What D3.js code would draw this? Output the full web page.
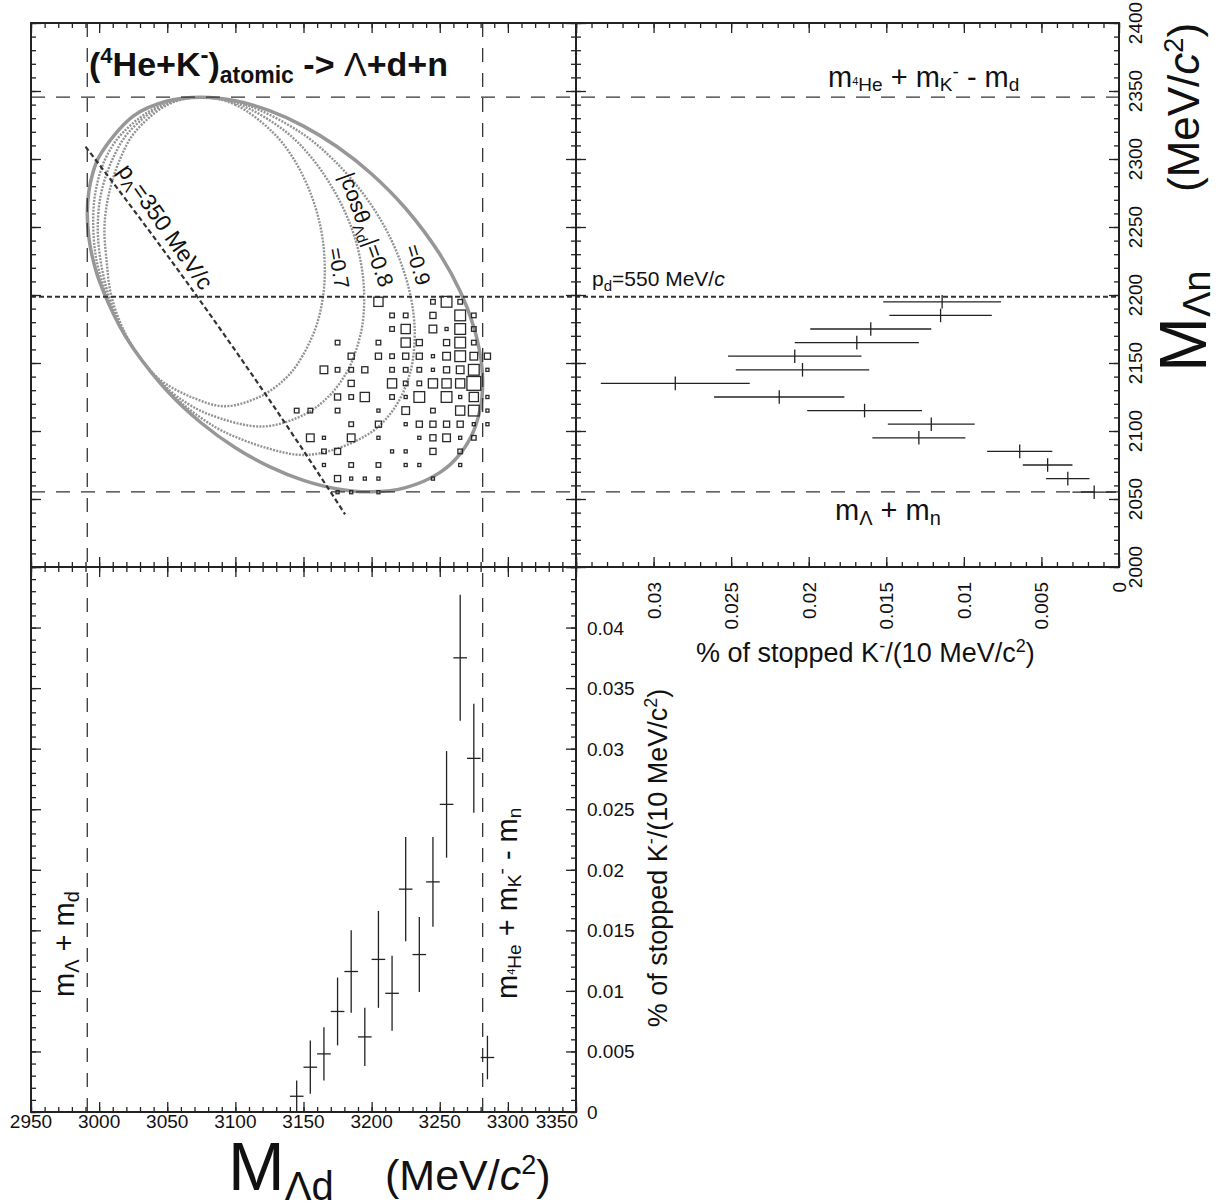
<!DOCTYPE html>
<html><head><meta charset="utf-8">
<script src="https://cdn.jsdelivr.net/npm/d3@7"></script>
<style>
body{margin:0;background:#fff;}
svg{display:block;font-family:"Liberation Sans",Arial,Helvetica,sans-serif;}
text{white-space:pre;}
</style></head><body>
<svg id="c" width="1218" height="1204"></svg>
<script>
// ---------------- data ----------------
// tick values / labels
const ldTicks = [2950,3000,3050,3100,3150,3200,3250,3300,3350];
const ldTickLabels = ["2950","3000","3050","3100","3150","3200","3250","3300","3350"];
const lnTicks = [2000,2050,2100,2150,2200,2250,2300,2350,2400];
const lnTickLabels = ["2000","2050","2100","2150","2200","2250","2300","2350","2400"];
const pctRightTicks = [0.03,0.025,0.02,0.015,0.01,0.005,0];
const pctRightLabels = ["0.03","0.025","0.02","0.015","0.01","0.005","0"];
const pctBottomTicks = [0,0.005,0.01,0.015,0.02,0.025,0.03,0.035,0.04];
const pctBottomLabels = ["0","0.005","0.01","0.015","0.02","0.025","0.03","0.035","0.04"];

// kinematic limits (MeV/c^2)
const limLd = [2991.3, 3281.5];      // m_L+m_d , m4He+mK-mn
const limLn = [2055.3, 2345.5];      // m_L+m_n , m4He+mK-md
const pdLine = 2198.7;               // p_d = 550 MeV/c

// projection on M_Ln (right panel)
const projLnBins = [2195,2185,2175,2165,2155,2145,2135,2125,2115,2105,2095,2085,2075,2065,2055];
const projLnVal  = [0.0114,0.0115,0.0160,0.0169,0.0209,0.0204,0.0286,0.0219,0.0164,0.0121,0.0129,0.0064,0.0046,0.0033,0.0016];
const projLnErr  = [0.0038,0.0033,0.0039,0.0040,0.0043,0.0043,0.0048,0.0042,0.0037,0.0028,0.0030,0.0021,0.0016,0.0014,0.0014];

// projection on M_Ld (bottom panel)
const projLdBins = [3145,3155,3165,3175,3185,3195,3205,3215,3225,3235,3245,3255,3265,3275,3285];
const projLdVal  = [0.0013,0.0037,0.0048,0.0083,0.0116,0.0062,0.0126,0.0098,0.0184,0.0130,0.0190,0.0254,0.0375,0.0292,0.0045];
const projLdErr  = [0.0013,0.0022,0.0022,0.0028,0.0034,0.0024,0.0040,0.0031,0.0043,0.0031,0.0037,0.0044,0.0052,0.0045,0.0018];

// 2D box histogram (rows of M_Ln, columns of M_Ld, box weight)
const boxRowLn = [2195,2185,2175,2165,2155,2145,2135,2125,2115,2105,2095,2085,2075,2065,2055];
const boxRowLd = [
 [3205,3245,3255,3265],
 [3215,3225,3245,3265,3275],
 [3215,3225,3245,3255,3265,3275],
 [3175,3205,3225,3235,3255,3265,3275],
 [3185,3205,3215,3225,3235,3245,3255,3265,3275,3285],
 [3165,3175,3185,3195,3215,3225,3235,3245,3255,3265,3275,3285],
 [3185,3215,3225,3235,3245,3255,3265,3275],
 [3175,3185,3195,3215,3225,3235,3255,3265,3275,3285],
 [3145,3155,3175,3205,3225,3245,3265,3275,3285],
 [3185,3205,3225,3235,3245,3255,3265,3275,3285],
 [3155,3165,3185,3205,3235,3245,3255,3265,3275],
 [3165,3175,3215,3225,3245,3265],
 [3165,3185,3205,3225,3235,3265],
 [3175,3185,3195,3205,3245],
 [3175,3185,3205]];
const boxRowN = [
 [6,3,7,3],
 [3,3,4,7,3],
 [3,6,5,2,7,3],
 [3,3,6,4,4,7,3],
 [4,4,3,4,4,2,5,7,5,4],
 [5,3,3,4,3,3,3,2,4,5,7,2],
 [4,6,3,3,6,6,6,9],
 [4,3,6,3,2,7,7,2,6,2],
 [3,3,3,2,5,3,6,7,2],
 [3,4,2,4,4,4,4,2,2],
 [5,2,5,2,2,4,5,2,3],
 [3,4,2,2,4,3],
 [2,3,3,2,2,2],
 [4,2,2,2,2],
 [2,2,2]];

// Dalitz boundary [M_Ld, M_Ln]
const boundaryPts = [[2991.3,2259.7],[2992.5,2276.5],[2995,2288.3],[3000,2301.8],[3025,2331.5],[3050,2342.6],[3075,2345.4],[3100,2342.8],[3125,2335.5],[3150,2324.2],[3175,2308.8],[3200,2289.0],[3225,2263.6],[3250,2230.1],[3265,2202.7],[3275,2176.5],[3280,2154.5],[3281,2146.2],[3281.5,2135.3],[3281,2125.0],[3280,2117.7],[3275,2100.3],[3265,2083.2],[3250,2069.4],[3225,2058.4],[3200,2055.3],[3175,2057.4],[3150,2063.7],[3125,2073.8],[3100,2087.7],[3075,2105.9],[3050,2129.4],[3025,2160.9],[3015,2177.2],[3000,2210.7],[2995,2228.2],[2992.5,2242.0]];
// |cos theta_Ld| contours
const cos07Pts = [[3075,2345.4],[3099.7,2340],[3127.1,2320],[3142.8,2300],[3155.1,2275],[3162.5,2250],[3165.5,2225],[3164.5,2200],[3158.6,2175],[3146.1,2150],[3135.6,2137.5],[3117.5,2125],[3092,2118.2],[3067.6,2125],[3044.9,2137.5],[3033,2150],[3028.9,2155.3],[3017.6,2175],[3008.8,2200],[3005.5,2225],[3003.9,2250],[3007.3,2275],[3015.4,2300],[3026.5,2320],[3050.5,2340]];
const cos08Pts = [[3075,2345.4],[3103.2,2340],[3137.1,2320],[3156.7,2300],[3173.4,2275],[3185,2250],[3191.9,2225],[3194.5,2200],[3192.7,2175],[3185.1,2150],[3178.2,2137.5],[3168,2125],[3151.4,2112.5],[3120,2103.3],[3080,2112.5],[3057.7,2125],[3043.9,2137.5],[3033,2150],[3028.9,2155.3],[3016.9,2175],[3006.9,2200],[3001.1,2225],[2999,2250],[3001.5,2275],[3009.9,2300],[3022,2320],[3048,2340]];
const cos09Pts = [[3075,2345.4],[3107.3,2340],[3147.1,2320],[3171.4,2300],[3193.4,2275],[3209.6,2250],[3221,2225],[3228.4,2200],[3231.6,2175],[3229.9,2150],[3226.6,2137.5],[3221.5,2125],[3213.6,2112.5],[3201,2100],[3176,2087.5],[3150,2082.4],[3123,2087.5],[3090.5,2100],[3070.8,2112.5],[3055.4,2125],[3043.2,2137.5],[3033,2150],[3028.9,2155.3],[3016.2,2175],[3005.6,2200],[2998.2,2225],[2995.7,2250],[2997.2,2275],[3004.5,2300],[3018,2320],[3046,2340]];
// p_Lambda = 350 MeV/c line
const pLamPts = [[2990,2309.1],[3025,2263.0],[3050,2229.2],[3075,2194.6],[3100,2159.1],[3125,2122.8],[3150,2085.5],[3180.5,2038.7]];

// ---------------- layout ----------------
const W=1218,H=1204;
const L=31, MX=576, R=1119, T=23, MY=567, B=1112;
const svg = d3.select("#c");
svg.append("rect").attr("width",W).attr("height",H).attr("fill","#fff");

const xLd = d3.scaleLinear().domain([2950,3350]).range([L,MX]);
const yLn = d3.scaleLinear().domain([2000,2400]).range([MY,T]);
const xPct = d3.scaleLinear().domain([0,0.035]).range([R,MX]);
const yPct = d3.scaleLinear().domain([0,0.045]).range([B,MY]);
const boxSize = d3.scaleLinear().domain([0,9]).range([0,13.8]);

const ink="#222";

// ---------------- curves ----------------
const lineLL = d3.line().x(d=>xLd(d[0])).y(d=>yLn(d[1]));
const closed = d3.line().x(d=>xLd(d[0])).y(d=>yLn(d[1])).curve(d3.curveCatmullRomClosed.alpha(0.5));
[cos07Pts,cos08Pts,cos09Pts].forEach(p=>{
  svg.append("path").attr("d",closed(p)).attr("fill","none").attr("stroke","#939393")
    .attr("stroke-width",2.4).attr("stroke-dasharray","2,1.3");
});
svg.append("path").attr("d",closed(boundaryPts)).attr("fill","none").attr("stroke","#979797").attr("stroke-width",3.5);

// kinematic limit lines (long dash)
function dline(x1,y1,x2,y2,dash,w){
  svg.append("line").attr("x1",x1).attr("y1",y1).attr("x2",x2).attr("y2",y2)
    .attr("stroke","#333").attr("stroke-width",w).attr("stroke-dasharray",dash);
}
limLn.forEach(v=>dline(L,yLn(v),R,yLn(v),"14,11",1.3));
limLd.forEach(v=>dline(xLd(v),T,xLd(v),B,"14,11",1.3));
dline(L,yLn(pdLine),R,yLn(pdLine),"5,3",2.2);
svg.append("path").attr("d",lineLL.curve(d3.curveMonotoneX)(pLamPts)).attr("fill","none")
  .attr("stroke","#333").attr("stroke-width",2.2).attr("stroke-dasharray","5,3");

// boxes
const boxes=[];
boxRowLn.forEach((ln,i)=>boxRowLd[i].forEach((ld,j)=>boxes.push({ld,ln,n:boxRowN[i][j]})));
svg.append("g").selectAll("rect").data(boxes).join("rect")
  .attr("x",d=>xLd(d.ld)-boxSize(d.n)/2).attr("y",d=>yLn(d.ln)-boxSize(d.n)/2)
  .attr("width",d=>boxSize(d.n)).attr("height",d=>boxSize(d.n))
  .attr("fill","none").attr("stroke","#2a2a2a").attr("stroke-width",1.3);

// right panel error bars
const gR = svg.append("g").attr("stroke",ink).attr("stroke-width",1.3);
projLnBins.forEach((b,i)=>{
  const y=yLn(b), v=projLnVal[i], e=projLnErr[i];
  gR.append("line").attr("x1",Math.max(MX,xPct(v+e))).attr("x2",Math.min(R,xPct(v-e))).attr("y1",y).attr("y2",y);
  gR.append("line").attr("x1",xPct(v)).attr("x2",xPct(v)).attr("y1",yLn(b+5)).attr("y2",yLn(b-5));
});
// bottom panel error bars
const gB = svg.append("g").attr("stroke",ink).attr("stroke-width",1.3);
projLdBins.forEach((b,i)=>{
  const x=xLd(b), v=projLdVal[i], e=projLdErr[i];
  gB.append("line").attr("x1",x).attr("x2",x).attr("y1",Math.min(B,yPct(v-e))).attr("y2",yPct(v+e));
  gB.append("line").attr("x1",xLd(b-5)).attr("x2",xLd(b+5)).attr("y1",yPct(v)).attr("y2",yPct(v));
});

// ---------------- frames & ticks ----------------
[[L,T,MX,MY],[MX,T,R,MY],[L,MY,MX,B]].forEach(r=>{
  svg.append("rect").attr("x",r[0]).attr("y",r[1]).attr("width",r[2]-r[0]).attr("height",r[3]-r[1])
    .attr("fill","none").attr("stroke",ink).attr("stroke-width",2);
});
function tk(axisFn, scale, tx, ty, majors, minors){
  const g = svg.append("g").attr("transform",`translate(${tx},${ty})`);
  g.append("g").call(axisFn(scale).tickValues(minors).tickSize(5).tickFormat(()=>""));
  g.append("g").call(axisFn(scale).tickValues(majors).tickSize(10).tickFormat(()=>""));
  g.selectAll(".domain").remove();
  g.selectAll(".tick line").attr("stroke",ink).attr("stroke-width",1.3);
}
const ldMin=d3.range(2950,3351,10), lnMin=d3.range(2000,2401,10);
const pxMaj=d3.range(0,8).map(i=>i*0.005), pxMin=d3.range(0,36).map(i=>i*0.001);
const pyMaj=d3.range(0,10).map(i=>i*0.005), pyMin=d3.range(0,46).map(i=>i*0.001);
// top-left
tk(d3.axisBottom,xLd,0,T,ldTicks,ldMin);
tk(d3.axisTop,xLd,0,MY,ldTicks,ldMin);
tk(d3.axisRight,yLn,L,0,lnTicks,lnMin);
tk(d3.axisLeft,yLn,MX,0,lnTicks,lnMin);
// top-right
tk(d3.axisBottom,xPct,0,T,pxMaj,pxMin);
tk(d3.axisTop,xPct,0,MY,pxMaj,pxMin);
tk(d3.axisRight,yLn,MX,0,lnTicks,lnMin);
tk(d3.axisLeft,yLn,R,0,lnTicks,lnMin);
// bottom-left
tk(d3.axisBottom,xLd,0,MY,ldTicks,ldMin);
tk(d3.axisTop,xLd,0,B,ldTicks,ldMin);
tk(d3.axisRight,yPct,L,0,pyMaj,pyMin);
tk(d3.axisLeft,yPct,MX,0,pyMaj,pyMin);

// tick labels
const tl = svg.append("g").attr("font-size",19).attr("fill","#111");
ldTicks.forEach((v,i)=>{
  const last=i===ldTicks.length-1;
  tl.append("text").attr("x",last?xLd(v)+2:xLd(v)).attr("y",1128)
    .attr("text-anchor",last?"end":"middle").text(ldTickLabels[i]);
});
lnTicks.forEach((v,i)=>{
  const x=1142,y=yLn(v);
  tl.append("text").attr("x",x).attr("y",y).attr("text-anchor","middle")
    .attr("transform",`rotate(-90,${x},${y})`).text(lnTickLabels[i]);
});
pctRightTicks.forEach((v,i)=>{
  const x=xPct(v)+7,y=582;
  tl.append("text").attr("x",x).attr("y",y).attr("text-anchor","end")
    .attr("transform",`rotate(-90,${x},${y})`).text(pctRightLabels[i]);
});
pctBottomTicks.forEach((v,i)=>{
  tl.append("text").attr("x",587).attr("y",yPct(v)+7).text(pctBottomLabels[i]);
});

// ---------------- texts ----------------
function rich(x,y,fs,parts,opts={}){
  const t = svg.append("text").attr("x",x).attr("y",y).attr("font-size",fs).attr("fill","#111");
  if(opts.rotate!=null) t.attr("transform",`rotate(${opts.rotate},${x},${y})`);
  if(opts.anchor) t.attr("text-anchor",opts.anchor);
  if(opts.weight) t.attr("font-weight",opts.weight);
  let prev=0;
  parts.forEach(p=>{
    const off=p.off||0;
    const s=t.append("tspan").text(p.t).attr("dy",off-prev);
    if(p.fs) s.attr("font-size",p.fs);
    if(p.it) s.attr("font-style","italic");
    if(p.w) s.attr("font-weight",p.w);
    prev=off;
  });
  return t;
}
// title
rich(89,76,34,[{t:"("},{t:"4",fs:22,off:-13},{t:"He+K"},{t:"-",fs:24,off:-13},{t:")"},
  {t:"atomic",fs:23,off:7},{t:" -> "},{t:"Λ",w:"normal"},{t:"+d+n"}],{weight:"bold"});
// top-right panel labels
const mHeK = (last)=>[{t:"m"},{t:"4",fs:11,off:-2},{t:"He",fs:19,off:4},{t:" + m"},{t:"K",fs:19,off:4},{t:"-",fs:19,off:-9},{t:" - m"},{t:last,fs:19,off:4}];
rich(828,87,29,mHeK("d"));
rich(835,520,29,[{t:"m"},{t:"Λ",fs:20,off:5},{t:" + m"},{t:"n",fs:20,off:5}]);
rich(592,286,21,[{t:"p"},{t:"d",fs:15,off:5},{t:"=550 MeV/"},{t:"c",it:true}]);
const pctTitle=[{t:"% of stopped K"},{t:"-",fs:18,off:-10},{t:"/(10 MeV/c"},{t:"2",fs:18,off:-10},{t:")"}];
rich(696,662,27,pctTitle);
// bottom panel labels
rich(74,997,29,[{t:"m"},{t:"Λ",fs:20,off:5},{t:" + m"},{t:"d",fs:20,off:5}],{rotate:-90});
rich(517,999,29,mHeK("n"),{rotate:-90});
rich(667,858,27,pctTitle,{rotate:-90,anchor:"middle"});
// in-plot annotations
rich(117,171,23,[{t:"p"},{t:"Λ",fs:16,off:5},{t:"=350 MeV/c"}],{rotate:55});
rich(339,176,22,[{t:"|cosθ"},{t:"Λd",fs:15,off:5},{t:"|=0.8"}],{rotate:70});
rich(328,249,21,[{t:"=0.7"}],{rotate:80});
rich(405,247,21,[{t:"=0.9"}],{rotate:73});
// axis titles
rich(228,1190,68,[{t:"M"},{t:"Λd",fs:40,off:10}]);
rich(385,1190,43,[{t:"(MeV/"},{t:"c",it:true},{t:"2",fs:27,off:-16},{t:")"}]);
rich(1206,372,66,[{t:"M"},{t:"Λn",fs:38,off:4}],{rotate:-90});
rich(1199,192,44,[{t:"(MeV/"},{t:"c",it:true},{t:"2",fs:27,off:-16},{t:")"}],{rotate:-90});
</script></body></html>
